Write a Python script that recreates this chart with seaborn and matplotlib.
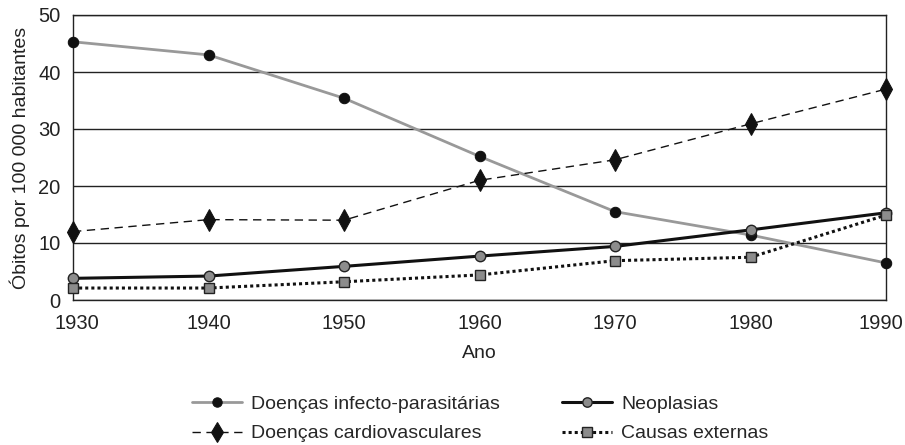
import numpy as np
import pandas as pd
import matplotlib
matplotlib.use('Agg')
import matplotlib.pyplot as plt
import matplotlib.transforms as mtransforms
import seaborn as sns

anos = [1930, 1940, 1950, 1960, 1970, 1980, 1990]
infecto = [45.3, 43.0, 35.4, 25.2, 15.5, 11.4, 6.5]
cardio = [12.0, 14.1, 14.0, 21.0, 24.6, 30.9, 37.0]
neoplasias = [3.8, 4.2, 5.9, 7.7, 9.4, 12.3, 15.3]
externas = [2.1, 2.1, 3.2, 4.4, 6.9, 7.5, 14.9]

sns.set_style('white')
plt.rcParams['font.family'] = ['Liberation Sans', 'DejaVu Sans']

fig = plt.figure(figsize=(9.05, 4.45), dpi=100)
ax = fig.add_axes([73 / 905, 1 - 300 / 445, 813 / 905, 285 / 445])

series = [
    ('Doenças infecto-parasitárias', infecto,
     dict(color='#999999', linestyle='-', linewidth=2, marker='o', markersize=7.5,
          markerfacecolor='#111111', markeredgecolor='#111111')),
    ('Doenças cardiovasculares', cardio,
     dict(color='#111111', linestyle=(0, (6, 4)), linewidth=1, marker='d', markersize=11,
          markerfacecolor='#111111', markeredgecolor='#111111')),
    ('Neoplasias', neoplasias,
     dict(color='#111111', linestyle='-', linewidth=2.2, marker='o', markersize=7.5,
          markerfacecolor='#8c8c8c', markeredgecolor='#222222', markeredgewidth=1)),
    ('Causas externas', externas,
     dict(color='#111111', linestyle=(0, (1, 1)), linewidth=2.2, marker='s', markersize=7.5,
          markerfacecolor='#8c8c8c', markeredgecolor='#222222', markeredgewidth=1)),
]

for nome, vals, style in series:
    df = pd.DataFrame({'Ano': anos, 'valor': vals})
    sns.lineplot(data=df, x='Ano', y='valor', ax=ax, label=nome, clip_on=False,
                 zorder=3, **style)

ax.set_xlim(1930, 1990)
ax.set_ylim(0, 50)
ax.set_xticks(anos)
ax.set_yticks(range(0, 51, 10))
ax.yaxis.grid(True, color='#222222', linewidth=1)
ax.set_axisbelow(True)
for sp in ax.spines.values():
    sp.set_color('#222222')
    sp.set_linewidth(1)
ax.tick_params(axis='both', length=0, labelsize=14.5, colors='#222222')
ax.tick_params(axis='x', pad=10)
ax.tick_params(axis='y', pad=9)

# nudge the end labels inward like the original
fig.canvas.draw()
xlabels = ax.get_xticklabels()
xlabels[0].set_transform(xlabels[0].get_transform() +
                         mtransforms.ScaledTranslation(4 / 100, 0, fig.dpi_scale_trans))
xlabels[-1].set_transform(xlabels[-1].get_transform() +
                          mtransforms.ScaledTranslation(-5 / 100, 0, fig.dpi_scale_trans))

ax.set_xlabel('Ano', fontsize=14, color='#222222', labelpad=9)
ax.set_ylabel('Óbitos por 100 000 habitantes', fontsize=14, color='#222222', labelpad=6)

handles, labels = ax.get_legend_handles_labels()
ax.get_legend().remove()
fig.legend(handles, labels, ncol=2, loc='center', bbox_to_anchor=(480 / 905, 1 - 419 / 445),
           bbox_transform=fig.transFigure,
           frameon=False, fontsize=14, handlelength=2.6, columnspacing=3.2,
           labelspacing=0.6, handletextpad=0.45, markerscale=0.9)

fig.savefig('out.png', dpi=100)
